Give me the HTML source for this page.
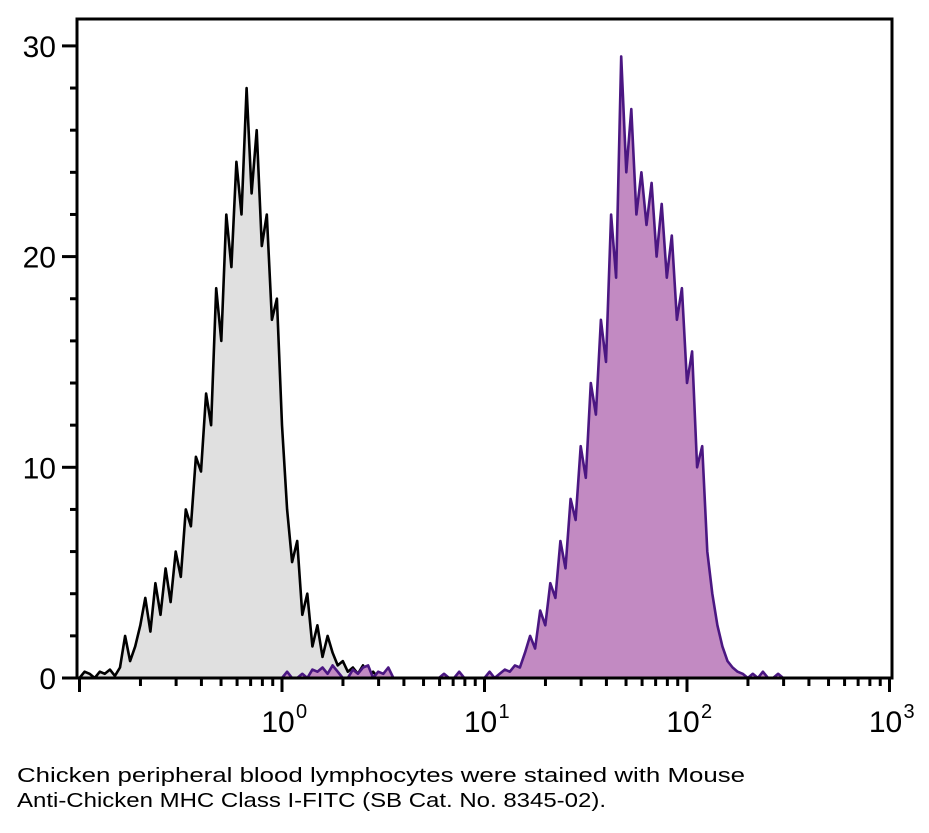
<!DOCTYPE html>
<html><head><meta charset="utf-8"><style>
body{margin:0;background:#fff;width:929px;height:828px;overflow:hidden;font-family:"Liberation Sans",sans-serif}
</style></head><body>
<svg id="chart" width="929" height="828" xmlns="http://www.w3.org/2000/svg">
<g id="plot"></g>
<text x="17" y="782" font-size="20" textLength="728" lengthAdjust="spacingAndGlyphs" font-family="Liberation Sans, sans-serif">Chicken peripheral blood lymphocytes were stained with Mouse</text>
<text x="17" y="807" font-size="20" textLength="589" lengthAdjust="spacingAndGlyphs" font-family="Liberation Sans, sans-serif">Anti-Chicken MHC Class I-FITC (SB Cat. No. 8345-02).</text>
</svg>
<script>
const controlStart = -1.0;
const controlCounts = [0,0.3,0.2,0,0.3,0.2,0.4,0.1,0.5,2,0.8,1.5,2.5,3.8,2.2,4.5,3.0,5.2,3.6,6.0,4.8,8,7.2,10.5,9.8,13.5,12,18.5,16,22,19.5,24.5,22,28,23,26,20.5,22,17,18,12,8,5.5,6.5,3,4,1.5,2.5,1,2,1.2,0.6,0.8,0.3,0.5,0.2,0.6,0,0.3,0];
const stainedStart = 0.0;
const stainedCounts = [0,0.3,0,0,0.2,0,0.4,0.3,0.5,0.2,0.6,0.3,0,0,0.4,0.2,0.5,0.6,0,0.3,0.2,0.5,0,0,0,0,0,0,0,0,0,0,0.2,0,0,0.3,0,0,0,0,
0,0.3,0,0.2,0.4,0.3,0.6,0.5,1.2,2.0,1.4,3.2,2.5,4.5,3.8,6.5,5.2,8.5,7.5,11,9.5,14,12.5,17,15,22,19,29.5,24,27,22,24,21.5,23.5,20,22.5,19,21,17,18.5,14,15.5,10,11,6,4,2.5,1.5,0.8,0.5,0.3,0.2,0,0.2,0,0.3,0,0,0.2,0];
const binWidth = 0.025;
const yTicks = [0,10,20,30];
const xDecades = [0,1,2,3];

const X0=77,X1=892,Y0=678,Y1=19;
const xs = l => 282 + 202.5*l;
const ys = v => 678 - 21.07*v;
const NS="http://www.w3.org/2000/svg";
const g=document.getElementById('plot');
function mk(t,a){const e=document.createElementNS(NS,t);for(const k in a)e.setAttribute(k,a[k]);g.appendChild(e);return e;}

function series(start,counts,fill,stroke,name){
  let pts=[];
  counts.forEach((c,i)=>{const l=start+i*binWidth;pts.push([xs(l),ys(c)]);});
  const line=pts.map(p=>p[0].toFixed(1)+','+p[1].toFixed(1)).join(' ');
  const area=mk('polygon',{points:xs(start).toFixed(1)+','+Y0+' '+line+' '+pts[pts.length-1][0].toFixed(1)+','+Y0,fill:fill});
  
  
  const pl=mk('polyline',{points:line,fill:'none',stroke:stroke,'stroke-width':2.6,'stroke-linejoin':'round'});
  
  
}
series(controlStart,controlCounts,'#e0e0e0','#000','control-histogram');
series(stainedStart,stainedCounts,'#c28ac2','#4b1782','stained-histogram');

const frame=mk('rect',{x:X0,y:Y1,width:X1-X0,height:Y0-Y1,fill:'none',stroke:'#000','stroke-width':3});



for(let v=0;v<=30;v+=2){
  const major=yTicks.includes(v);
  const t=mk('line',{x1:major?62:70,x2:X0,y1:ys(v),y2:ys(v),stroke:'#000','stroke-width':3});
  
  
}
yTicks.forEach(v=>{
  const t=mk('text',{x:56,y:ys(v)+11,'text-anchor':'end','font-size':30,'font-family':'Liberation Sans, sans-serif'});
  t.textContent=v;
  
  
});
for(let d=-1;d<3;d++){for(let m=1;m<10;m++){
  const l=d+Math.log10(m);const x=xs(l);if(x<X0+2)continue;
  const major=m===1;
  const t=mk('line',{x1:x,x2:x,y1:Y0,y2:major?Y0+14:Y0+8,stroke:'#000','stroke-width':3});
  
  
}}
xDecades.forEach(d=>{
  const x=xs(d);
  const t=mk('line',{x1:x,x2:x,y1:Y0,y2:Y0+14,stroke:'#000','stroke-width':3});
  
  
  const tx=mk('text',{x:x-4,y:Y0+54,'text-anchor':'middle','font-size':30,'font-family':'Liberation Sans, sans-serif'});
  tx.textContent='10';
  
  
  const sp=mk('text',{x:x+14,y:Y0+40,'font-size':20,'font-family':'Liberation Sans, sans-serif'});
  sp.textContent=d;
  
  
});
</script>
</body></html>
